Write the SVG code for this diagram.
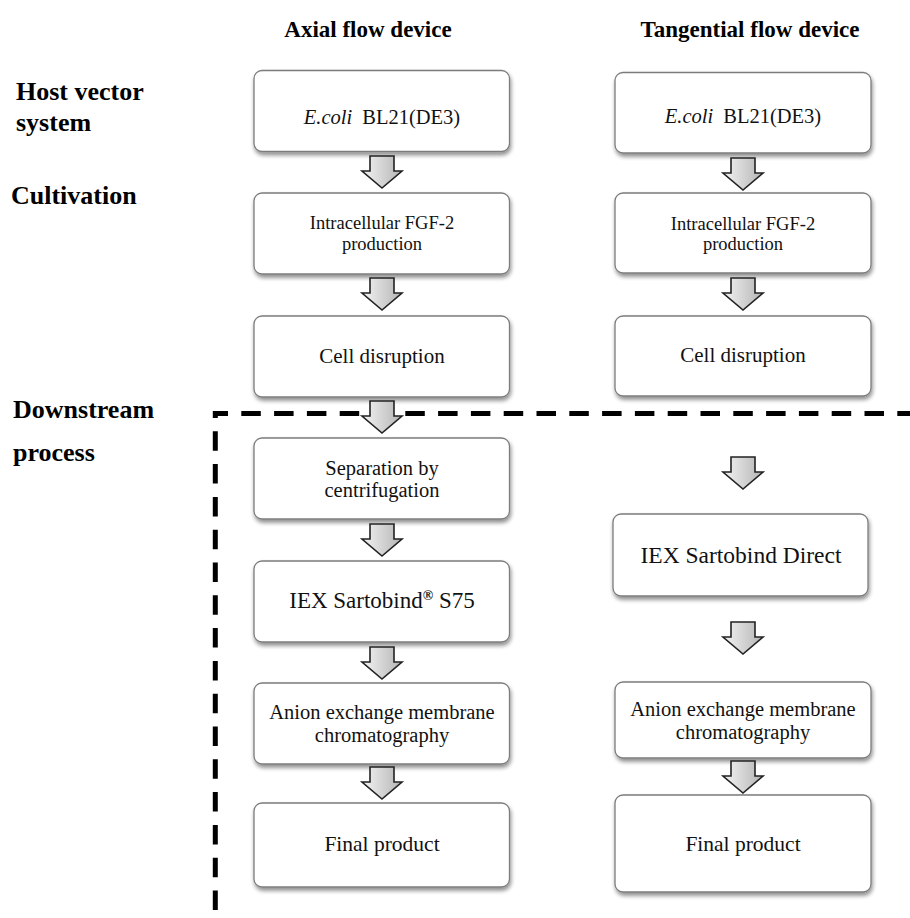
<svg xmlns="http://www.w3.org/2000/svg" width="910" height="918" viewBox="0 0 910 918">
<defs>
  <linearGradient id="ag" x1="0" y1="0" x2="1" y2="0">
    <stop offset="0" stop-color="#f4f4f4"/>
    <stop offset="1" stop-color="#b4b4b4"/>
  </linearGradient>
  <filter id="sh" x="-10%" y="-10%" width="120%" height="130%">
    <feGaussianBlur in="SourceAlpha" stdDeviation="2"/>
    <feOffset dx="1" dy="3" result="b"/>
    <feComponentTransfer><feFuncA type="linear" slope="0.45"/></feComponentTransfer>
    <feMerge><feMergeNode/><feMergeNode in="SourceGraphic"/></feMerge>
  </filter>
  <path id="arr" d="M-12,0 H12 V15 H20 L0,32 L-20,15 H-12 Z"/>
</defs>
<style>
  .box { fill:#fff; stroke:#7c7c7c; stroke-width:1.3; filter:url(#sh); }
  .t { font-family:"Liberation Serif","Times New Roman",serif; fill:#111; text-anchor:middle; }
  .lbl { font-family:"Liberation Serif","Times New Roman",serif; font-weight:bold; fill:#000; font-size:26px; }
  .hdr { font-family:"Liberation Serif","Times New Roman",serif; font-weight:bold; fill:#000; font-size:23px; text-anchor:middle; }
  .a { fill:url(#ag); stroke:#222; stroke-width:1.6; stroke-linejoin:miter; }
  .dash { fill:none; stroke:#000; stroke-width:5; }
</style>
<rect width="910" height="918" fill="#fff"/>

<g id="headers">
  <text class="hdr" x="368" y="37">Axial flow device</text>
  <text class="hdr" x="750" y="37">Tangential flow device</text>
</g>
<g id="stage-labels">
  <text class="lbl" x="16" y="100">Host vector</text>
  <text class="lbl" x="16" y="131">system</text>
  <text class="lbl" x="11" y="204">Cultivation</text>
  <text class="lbl" x="13" y="418">Downstream</text>
  <text class="lbl" x="13" y="461">process</text>
</g>

<g id="boundary">
  <path class="dash" d="M213,413.5 H910" stroke-dasharray="19.5 13.3" stroke-dashoffset="4.5"/>
  <path class="dash" d="M215.3,411 V918" stroke-dasharray="19.5 13.3" stroke-dashoffset="12.5"/>
</g>

<!-- Axial column -->
<g id="a1"><rect class="box" x="254" y="70.5" width="255.5" height="81" rx="8"/>
  <text class="t" x="382" y="124" font-size="20.5"><tspan font-style="italic">E.coli</tspan><tspan dx="10">BL21(DE3)</tspan></text></g>
<g id="a2"><rect class="box" x="254" y="193" width="255.5" height="81" rx="8"/>
  <text class="t" x="382" y="229" font-size="18.5">Intracellular FGF-2</text>
  <text class="t" x="382" y="250" font-size="18.5">production</text></g>
<g id="a3"><rect class="box" x="254" y="316" width="255.5" height="81" rx="8"/>
  <text class="t" x="382" y="363" font-size="21">Cell disruption</text></g>
<g id="a4"><rect class="box" x="254" y="438" width="255.5" height="81" rx="8"/>
  <text class="t" x="382" y="474.5" font-size="20.5">Separation by</text>
  <text class="t" x="382" y="497" font-size="20.5">centrifugation</text></g>
<g id="a5"><rect class="box" x="254" y="561" width="255.5" height="81" rx="8"/>
  <text class="t" x="382" y="608" font-size="23">IEX Sartobind<tspan font-weight="bold" font-size="14" dy="-8">®</tspan><tspan dy="8"> S75</tspan></text></g>
<g id="a6"><rect class="box" x="254" y="683" width="255.5" height="81" rx="8"/>
  <text class="t" x="382" y="719" font-size="20.5">Anion exchange membrane</text>
  <text class="t" x="382" y="741.5" font-size="20.5">chromatography</text></g>
<g id="a7"><rect class="box" x="254" y="803" width="255.5" height="84" rx="8"/>
  <text class="t" x="382" y="851" font-size="21.5">Final product</text></g>

<!-- Tangential column -->
<g id="t1"><rect class="box" x="615" y="72.5" width="256" height="80.5" rx="8"/>
  <text class="t" x="743" y="123" font-size="20.5"><tspan font-style="italic">E.coli</tspan><tspan dx="10">BL21(DE3)</tspan></text></g>
<g id="t2"><rect class="box" x="615" y="193" width="256" height="80" rx="8"/>
  <text class="t" x="743" y="230" font-size="18.5">Intracellular FGF-2</text>
  <text class="t" x="743" y="250" font-size="18.5">production</text></g>
<g id="t3"><rect class="box" x="615" y="316" width="256" height="80" rx="8"/>
  <text class="t" x="743" y="362" font-size="21">Cell disruption</text></g>
<g id="t4"><rect class="box" x="613" y="514" width="255" height="82" rx="8"/>
  <text class="t" x="741" y="563" font-size="23.5">IEX Sartobind Direct</text></g>
<g id="t5"><rect class="box" x="615" y="682" width="256" height="76" rx="8"/>
  <text class="t" x="743" y="716" font-size="20.5">Anion exchange membrane</text>
  <text class="t" x="743" y="738.5" font-size="20.5">chromatography</text></g>
<g id="t6"><rect class="box" x="615" y="795" width="256" height="97" rx="8"/>
  <text class="t" x="743" y="851" font-size="21.5">Final product</text></g>

<g id="connectors">
  <use href="#arr" class="a" x="382" y="156"/>
  <use href="#arr" class="a" x="382" y="278"/>
  <use href="#arr" class="a" x="382" y="401"/>
  <use href="#arr" class="a" x="382" y="524"/>
  <use href="#arr" class="a" x="382" y="647"/>
  <use href="#arr" class="a" x="382" y="767"/>
  <use href="#arr" class="a" x="743" y="158"/>
  <use href="#arr" class="a" x="743" y="278"/>
  <use href="#arr" class="a" x="743" y="457"/>
  <use href="#arr" class="a" x="743" y="622"/>
  <use href="#arr" class="a" x="743" y="761"/>
</g>
</svg>
